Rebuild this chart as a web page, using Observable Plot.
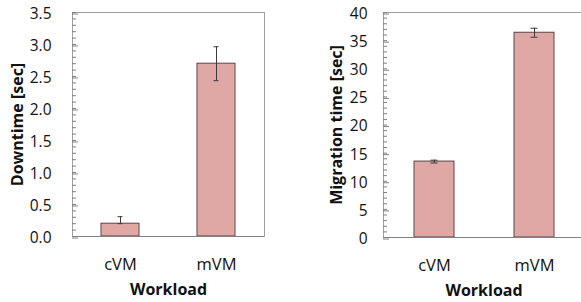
<!DOCTYPE html>
<html><head><meta charset="utf-8">
<script src="https://cdn.jsdelivr.net/npm/d3@7"></script>
<script src="https://cdn.jsdelivr.net/npm/@observablehq/plot@0.6"></script>
<style>
html,body{margin:0;padding:0;background:#fff;overflow:hidden}
#wrap{display:flex;width:581px;height:302px;overflow:hidden}
#wrap svg{flex:none;display:block;overflow:visible}
</style></head><body><div id="wrap"></div>
<script>
const workloads = ["cVM", "mVM"];
const downtime = [0.20, 2.70];
const downtimeErrLow = [0, 0.265];
const downtimeErrHigh = [0.11, 0.265];
const migration = [13.5, 36.4];
const migrationErrLow = [0.25, 0.8];
const migrationErrHigh = [0.25, 0.8];
const downtimeTicks = [0, 0.5, 1.0, 1.5, 2.0, 2.5, 3.0, 3.5];
const migrationTicks = [0, 5, 10, 15, 20, 25, 30, 35, 40];
const xTitle = "Workload";
const downtimeTitle = "Downtime [sec]";
const migrationTitle = "Migration time [sec]";

const BAR_FILL = "#dfa8a5", BAR_STROKE = "#5a4646", FRAME = "#a0a0a0", AXIS = "#808080", ERR = "#3a3a3a";

function chart({values, lo, hi, yTicks, yMax, minorCount, fmt, yTitle, width, marginLeft, marginRight, marginBottom, labelGap, titleDx}) {
  const data = workloads.map((w, i) => ({w, v: values[i], lo: values[i] - lo[i], hi: values[i] + hi[i]}));
  return Plot.plot({
    width, height: 302,
    marginLeft, marginRight, marginTop: 12, marginBottom,
    style: {fontFamily: "'Open Sans', sans-serif", fontSize: "15px", color: "#111", background: "#fff"},
    x: {type: "band", domain: workloads, paddingInner: 0.6, paddingOuter: 0.3, axis: null},
    y: {domain: [0, yMax], axis: null},
    marks: [
      Plot.frame({stroke: FRAME}),
      Plot.barY(data, {x: "w", y: "v", fill: BAR_FILL, stroke: BAR_STROKE, strokeWidth: 1}),
      Plot.ruleX(data, {x: "w", y1: "lo", y2: "hi", stroke: ERR, strokeWidth: 1}),
      Plot.tickY(data, {x: "w", y: "hi", stroke: ERR, insetLeft: 16.5, insetRight: 16.5}),
      Plot.tickY(data, {x: "w", y: "lo", stroke: ERR, insetLeft: 16.5, insetRight: 16.5}),
      Plot.ruleY([0], {stroke: AXIS}),
      Plot.axisY({ticks: minorCount, tickSize: -4, tickFormat: () => "", stroke: AXIS, label: null}),
      Plot.axisY(yTicks, {tickSize: -6, tickPadding: labelGap + 6, tickFormat: fmt, stroke: AXIS, fill: "#111", label: null, fontSize: 15.5, dy: 1.5}),
      Plot.axisX(workloads, {tickSize: 0, tickPadding: 22, label: null, fontSize: 16.5, fill: "#111"}),
      Plot.text([xTitle], {text: d => d, frameAnchor: "bottom", lineAnchor: "top", dy: 47, fontWeight: "bold", fontSize: 16, fill: "#111"}),
      Plot.text([yTitle], {text: d => d, frameAnchor: "left", textAnchor: "middle", rotate: -90, lineAnchor: "top", dx: titleDx, fontWeight: "bold", fontSize: 16, fill: "#111"})
    ]
  });
}

const wrap = document.getElementById("wrap");
wrap.append(chart({
  values: downtime, lo: downtimeErrLow, hi: downtimeErrHigh,
  yTicks: downtimeTicks, yMax: 3.5, minorCount: 35, fmt: d3.format(".1f"), yTitle: downtimeTitle,
  width: 290, marginLeft: 72, marginRight: 26, marginBottom: 66, labelGap: 21, titleDx: -61
}));
wrap.append(chart({
  values: migration, lo: migrationErrLow, hi: migrationErrHigh,
  yTicks: migrationTicks, yMax: 40, minorCount: 40, fmt: d3.format("d"), yTitle: migrationTitle,
  width: 294, marginLeft: 93, marginRight: 0, marginBottom: 65, labelGap: 16, titleDx: -53
}));
</script></body></html>
